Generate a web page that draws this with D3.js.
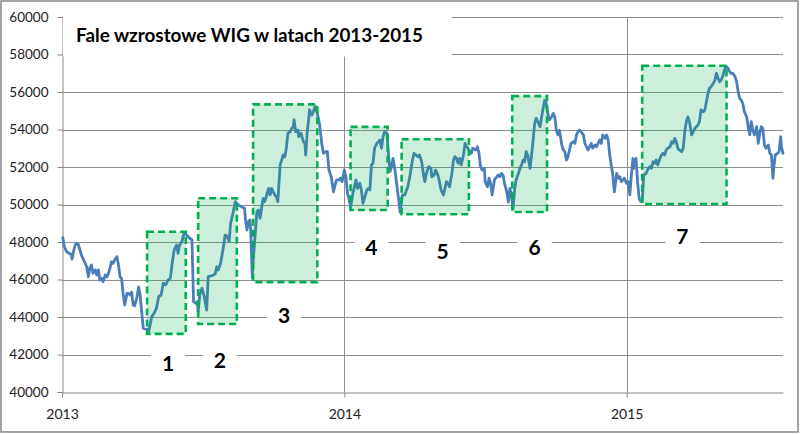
<!DOCTYPE html>
<html><head><meta charset="utf-8">
<script src="https://cdn.jsdelivr.net/npm/d3@7"></script>
<style>body{margin:0;background:#fff} svg{display:block}</style>
</head><body><svg id="c" width="800" height="434"></svg>
<script>
const title = "Fale wzrostowe WIG w latach 2013-2015";
const dates = [
"2013-01-02","2013-01-04","2013-01-07","2013-01-10","2013-01-13","2013-01-14","2013-01-16","2013-01-18","2013-01-20","2013-01-22",
"2013-01-26","2013-01-29","2013-01-31","2013-02-02","2013-02-04","2013-02-06","2013-02-08","2013-02-10","2013-02-13","2013-02-15",
"2013-02-17","2013-02-19","2013-02-21","2013-02-23","2013-02-26","2013-02-28","2013-03-02","2013-03-04","2013-03-06","2013-03-08",
"2013-03-10","2013-03-13","2013-03-15","2013-03-17","2013-03-19","2013-03-21","2013-03-23","2013-03-26","2013-03-28","2013-03-30",
"2013-04-01","2013-04-03","2013-04-05","2013-04-08","2013-04-10","2013-04-12","2013-04-14","2013-04-16","2013-04-19","2013-04-22",
"2013-04-23","2013-04-27","2013-04-30","2013-05-03","2013-05-06","2013-05-09","2013-05-12","2013-05-15","2013-05-18","2013-05-21",
"2013-05-24","2013-05-26","2013-05-29","2013-05-31","2013-06-02","2013-06-05","2013-06-08","2013-06-11","2013-06-15","2013-06-18",
"2013-06-20","2013-06-23","2013-06-25","2013-06-26","2013-06-28","2013-07-01","2013-07-04","2013-07-07","2013-07-09","2013-07-13",
"2013-07-18","2013-07-20","2013-07-22","2013-07-25","2013-07-28","2013-07-31","2013-08-03","2013-08-05","2013-08-07","2013-08-10",
"2013-08-13","2013-08-15","2013-08-17","2013-08-21","2013-08-25","2013-08-26","2013-08-28","2013-08-30","2013-09-01","2013-09-02",
"2013-09-04","2013-09-05","2013-09-07","2013-09-10","2013-09-12","2013-09-14","2013-09-16","2013-09-18","2013-09-20","2013-09-22",
"2013-09-25","2013-09-27","2013-09-29","2013-10-01","2013-10-03","2013-10-05","2013-10-07","2013-10-10","2013-10-12","2013-10-14",
"2013-10-16","2013-10-18","2013-10-20","2013-10-23","2013-10-25","2013-10-27","2013-10-28","2013-10-30","2013-11-02","2013-11-03",
"2013-11-06","2013-11-09","2013-11-11","2013-11-12","2013-11-14","2013-11-16","2013-11-17","2013-11-20","2013-11-22","2013-11-24",
"2013-11-26","2013-11-28","2013-11-30","2013-12-03","2013-12-05","2013-12-08","2013-12-10","2013-12-12","2013-12-15","2013-12-18",
"2013-12-20","2013-12-22","2013-12-25","2013-12-27","2013-12-29",
"2014-01-01","2014-01-03","2014-01-05","2014-01-07","2014-01-09","2014-01-12","2014-01-16","2014-01-18","2014-01-21","2014-01-23",
"2014-01-25","2014-01-27","2014-01-30","2014-02-01","2014-02-03","2014-02-05","2014-02-07","2014-02-09","2014-02-12","2014-02-14",
"2014-02-16","2014-02-18","2014-02-20","2014-02-22","2014-02-25","2014-02-27","2014-03-01","2014-03-03","2014-03-05","2014-03-07",
"2014-03-09","2014-03-12","2014-03-14","2014-03-17","2014-03-20","2014-03-24","2014-03-27","2014-03-30","2014-04-01","2014-04-06",
"2014-04-08","2014-04-11","2014-04-13","2014-04-15","2014-04-17","2014-04-20","2014-04-23","2014-04-24","2014-04-27","2014-04-29",
"2014-05-01","2014-05-03","2014-05-06","2014-05-09","2014-05-11","2014-05-13","2014-05-15","2014-05-17","2014-05-20","2014-05-22",
"2014-05-24","2014-05-26","2014-05-28","2014-05-30","2014-06-01","2014-06-04","2014-06-06","2014-06-08","2014-06-10","2014-06-12",
"2014-06-14","2014-06-16","2014-06-20","2014-06-22","2014-06-24","2014-06-26","2014-06-28","2014-07-01","2014-07-02","2014-07-05",
"2014-07-07","2014-07-09","2014-07-11","2014-07-14","2014-07-17","2014-07-19","2014-07-21","2014-07-23","2014-07-25","2014-07-27",
"2014-07-30","2014-08-01","2014-08-03","2014-08-05","2014-08-07","2014-08-09","2014-08-11","2014-08-14","2014-08-16","2014-08-18",
"2014-08-20","2014-08-22","2014-08-24","2014-08-26","2014-08-29","2014-08-31","2014-09-02","2014-09-04","2014-09-06","2014-09-08",
"2014-09-11","2014-09-13","2014-09-15","2014-09-17","2014-09-19","2014-09-21","2014-09-23","2014-09-26","2014-09-28","2014-09-30",
"2014-10-02","2014-10-04","2014-10-06","2014-10-09","2014-10-11","2014-10-13","2014-10-15","2014-10-17","2014-10-19","2014-10-21",
"2014-10-24","2014-10-26","2014-10-28","2014-10-30","2014-11-01","2014-11-03","2014-11-06","2014-11-08","2014-11-10","2014-11-12",
"2014-11-14","2014-11-16","2014-11-18","2014-11-21","2014-11-23","2014-11-25","2014-11-27","2014-11-29","2014-12-01","2014-12-04",
"2014-12-06","2014-12-08","2014-12-10","2014-12-12","2014-12-14","2014-12-16","2014-12-19","2014-12-21","2014-12-23","2014-12-25",
"2014-12-27","2014-12-29",
"2015-01-01","2015-01-03","2015-01-05","2015-01-07","2015-01-09","2015-01-10","2015-01-13","2015-01-15","2015-01-17","2015-01-19",
"2015-01-21","2015-01-23","2015-01-26","2015-01-29","2015-01-31","2015-02-02","2015-02-04","2015-02-06","2015-02-08","2015-02-10",
"2015-02-13","2015-02-15","2015-02-17","2015-02-19","2015-02-21","2015-02-23","2015-02-26","2015-02-28","2015-03-02","2015-03-04",
"2015-03-06","2015-03-08","2015-03-10","2015-03-13","2015-03-15","2015-03-17","2015-03-19","2015-03-21","2015-03-23","2015-03-26",
"2015-03-28","2015-03-30","2015-04-01","2015-04-03","2015-04-05","2015-04-07","2015-04-10","2015-04-12","2015-04-14","2015-04-16",
"2015-04-18","2015-04-20","2015-04-23","2015-04-25","2015-04-27","2015-04-29","2015-05-01","2015-05-03","2015-05-05","2015-05-08",
"2015-05-10","2015-05-12","2015-05-14","2015-05-16","2015-05-18","2015-05-21","2015-05-23","2015-05-25","2015-05-27","2015-05-29",
"2015-05-31","2015-06-02","2015-06-05","2015-06-07","2015-06-09","2015-06-11","2015-06-13","2015-06-15","2015-06-18","2015-06-20",
"2015-06-22","2015-06-24","2015-06-26","2015-06-28","2015-06-30","2015-07-03","2015-07-05","2015-07-07","2015-07-09","2015-07-10",
"2015-07-12","2015-07-15","2015-07-17","2015-07-19","2015-07-20","2015-07-22"
];
const values = [
48230,47750,47480,47400,47340,47090,47520,47840,47930,47880,
47310,47040,46860,46680,46150,46600,46770,46330,46510,46240,
46510,45970,46060,45880,46240,46150,46330,46600,46950,46860,
47040,47220,46770,46150,46060,45260,44640,45260,45260,45170,
45320,44640,44600,45080,45600,45170,44280,43400,43360,43330,
43220,44020,44200,44460,45080,45170,45800,45710,45970,46060,
47040,47570,47840,47400,47840,48020,48500,48370,48200,48110,
44820,44730,44820,44270,45170,45530,45080,44370,46150,46190,
46290,46680,46510,46860,47570,48370,48280,48020,49000,49530,
50150,50060,49970,49880,49800,49260,48640,49080,49170,48550,
46080,46950,48020,49620,49710,49260,49800,50330,50150,50420,
50860,50510,50860,50680,50510,50420,50150,52110,52370,52640,
52550,53000,53800,53880,54060,54150,54510,53880,53970,53620,
53800,53350,53260,52640,53880,54600,55040,54770,54950,55220,
55040,54680,54240,53170,52730,52820,52820,51840,51480,50680,
51040,51310,51310,51400,51220,
51840,51480,50600,50330,49810,50600,51310,50860,51130,50770,
50060,50330,50770,50860,50770,52110,52200,53000,53260,53350,
53440,53000,53620,53880,53800,52730,51750,52020,52460,51930,
51310,50330,49600,50510,50510,50950,51570,52370,52730,52550,
52640,52280,51660,51220,51660,52020,51930,51480,51570,51840,
51660,51400,50770,50510,50860,51220,51130,50950,51660,52370,
52550,52460,52200,52460,52110,52640,53260,53080,53000,52820,
52730,53000,52910,53080,52730,52020,51840,51930,51220,50950,
51400,51130,50510,51310,51480,51570,51480,51660,51570,51130,
50670,50130,50860,50510,49750,50770,51310,51660,51930,52110,
52370,52280,52820,52640,51930,52640,53440,54330,54600,54420,
54150,54680,55130,55570,55400,54860,54510,54680,54860,54680,
53970,53710,53970,53170,52910,52820,52370,52550,52910,53260,
53350,53260,53710,53880,53970,53880,53710,53260,53080,52910,
53080,53260,53000,53170,53080,53260,53440,53260,53710,53530,
53710,53440,52640,52110,51570,50680,51660,51400,51480,51220,
51310,51400,
51130,51220,50510,51570,52460,51930,52460,51220,50330,50150,
50150,51570,51660,51930,52020,51930,52280,52200,52370,52110,
52460,52640,52730,52640,52910,53000,53080,53350,53260,53530,
53350,53000,52910,52820,53000,53880,54400,54670,54420,53710,
53880,54060,54150,54240,54420,55040,54950,55040,55480,55930,
56200,56280,56460,56640,57000,56730,56550,56640,56820,57260,
57350,57260,57080,57000,57000,56820,56550,56020,55660,55570,
55400,54950,54680,54150,53710,54420,53970,53710,54150,53260,
53800,54150,54060,53170,53000,53170,52730,52640,51400,51930,
52640,52730,52820,53620,53080,52730
];
const yTicks = [40000,42000,44000,46000,48000,50000,52000,54000,56000,58000,60000];
const xTickDates = ["2013-01-01","2014-01-01","2015-01-01"];
const waveLabels = ["1","2","3","4","5","6","7"];
const waveStart = ["2013-04-21","2013-06-26","2013-09-05","2014-01-09","2014-03-16","2014-08-06","2015-01-21"];
const waveEnd   = ["2013-06-10","2013-08-15","2013-11-27","2014-02-26","2014-06-11","2014-09-20","2015-05-10"];
const waveLow   = [43100,43630,45850,49710,49480,49600,50030];
const waveHigh  = [48550,50330,55340,54140,53480,55780,57400];
const labelDates  = ["2013-05-18","2013-07-24","2013-10-15","2014-02-05","2014-05-08","2014-09-04","2015-03-14"];
const labelValues = [41550,41710,44110,47730,47520,47730,48320];

const parse = d3.timeParse("%Y-%m-%d");
const series = dates.map((d, i) => ({date: parse(d), value: values[i]}));
const svg = d3.select("#c");
const x = d3.scaleTime().domain([parse("2013-01-01"), parse("2015-07-22")]).range([62, 783]);
const y = d3.scaleLinear().domain([40000, 60000]).range([392, 17]);
const gridColor = "#8e8e8e";
const font = "Lato, 'Open Sans', sans-serif";

// chart border
svg.append("rect").attr("x", 1).attr("y", 1).attr("width", 797).attr("height", 431)
  .attr("fill", "#fff").attr("stroke", "#868686").attr("stroke-width", 1.5);

// horizontal gridlines
svg.append("g").selectAll("line").data(yTicks.filter(v => v > 40000)).join("line")
  .attr("x1", 62).attr("x2", 783)
  .attr("y1", d => Math.round(y(d)) + 0.5).attr("y2", d => Math.round(y(d)) + 0.5)
  .attr("stroke", gridColor).attr("stroke-width", 1);

// vertical gridlines at year boundaries
svg.append("g").selectAll("line").data(xTickDates.slice(1)).join("line")
  .attr("x1", d => Math.round(x(parse(d))) + 0.5).attr("x2", d => Math.round(x(parse(d))) + 0.5)
  .attr("y1", 17).attr("y2", 392)
  .attr("stroke", gridColor).attr("stroke-width", 1);

// y axis
const yAxis = svg.append("g").attr("transform", "translate(62.5,0)")
  .call(d3.axisLeft(y).tickValues(yTicks).tickSize(5).tickSizeOuter(0).tickPadding(9).tickFormat(d3.format("d")));
yAxis.selectAll("path,line").attr("stroke", "#868686");
yAxis.selectAll("text").attr("font-family", font).attr("font-size", 13.5).attr("fill", "#222");

// x axis
const xAxis = svg.append("g").attr("transform", "translate(0,392.5)")
  .call(d3.axisBottom(x).tickValues(xTickDates.map(parse)).tickSize(5).tickSizeOuter(0).tickPadding(12).tickFormat(d3.timeFormat("%Y")));
xAxis.selectAll("path,line").attr("stroke", "#868686");
xAxis.selectAll("text").attr("font-family", font).attr("font-size", 14).attr("fill", "#222");

// WIG line
svg.append("path").datum(series)
  .attr("fill", "none").attr("stroke", "#4a7ebb").attr("stroke-width", 2.8)
  .attr("stroke-linejoin", "round").attr("stroke-linecap", "round")
  .attr("d", d3.line().x(d => x(d.date)).y(d => y(d.value)));

// wave rectangles
const waves = waveLabels.map((l, i) => ({label: l, s: parse(waveStart[i]), e: parse(waveEnd[i]), lo: waveLow[i], hi: waveHigh[i],
  ld: parse(labelDates[i]), lv: labelValues[i]}));
svg.append("g").selectAll("rect").data(waves).join("rect")
  .attr("x", d => x(d.s)).attr("y", d => y(d.hi))
  .attr("width", d => x(d.e) - x(d.s)).attr("height", d => y(d.lo) - y(d.hi))
  .attr("fill", "#00b050").attr("fill-opacity", 0.2)
  .attr("stroke", "#00b050").attr("stroke-width", 2.6).attr("stroke-dasharray", "7,4");

// wave number labels with white boxes
const lg = svg.append("g").selectAll("g").data(waves).join("g")
  .attr("transform", d => `translate(${x(d.ld)},${y(d.lv)})`);
lg.append("rect").attr("x", -17).attr("y", -15).attr("width", 34).attr("height", 30).attr("fill", "#fff");
lg.append("text").text(d => d.label)
  .attr("text-anchor", "middle").attr("dy", "0.36em")
  .attr("font-family", font).attr("font-weight", "bold").attr("font-size", 21).attr("fill", "#000");

// title box
svg.append("rect").attr("x", 63).attr("y", 8).attr("width", 389).attr("height", 48.5).attr("fill", "#fff");
svg.append("text").attr("x", 76).attr("y", 42).text(title)
  .attr("font-family", font).attr("font-weight", "bold").attr("font-size", 19)
  .attr("textLength", 347).attr("lengthAdjust", "spacingAndGlyphs").attr("fill", "#000");
</script></body></html>
